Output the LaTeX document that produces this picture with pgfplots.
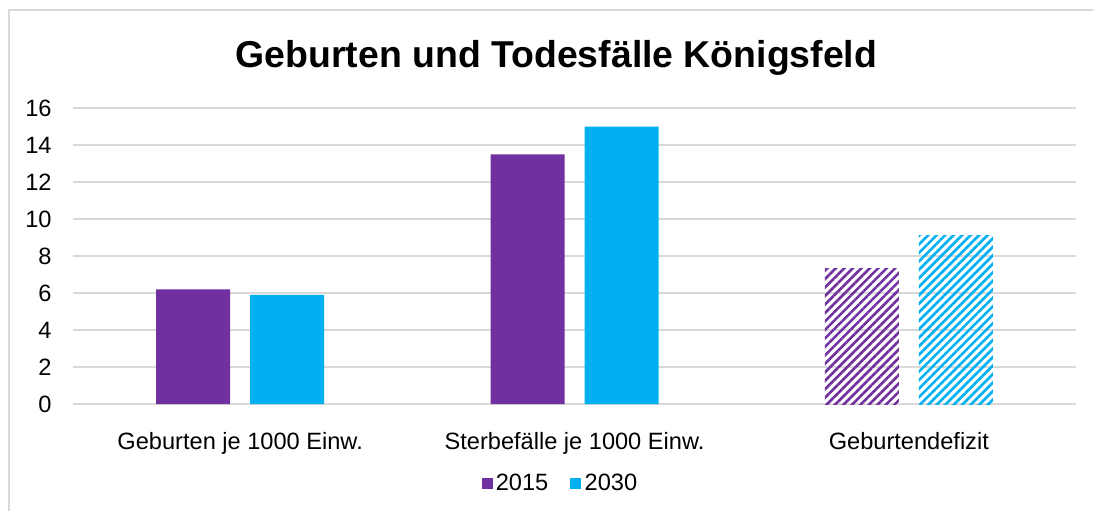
\documentclass[border=0pt]{standalone}
\usepackage{pgfplots}
\pgfplotsset{compat=1.18}
\usepackage{fontspec}
\setmainfont{Liberation Sans}
\usetikzlibrary{patterns.meta}

\definecolor{violett}{HTML}{7030A0}
\definecolor{hellblau}{HTML}{00B0F0}
\definecolor{gitter}{HTML}{D9D9D9}

\begin{document}
\begin{tikzpicture}[x=0.5pt,y=0.5pt]
    % picture is 1093 x 510 px, 1 px = 0.5pt
    \useasboundingbox (0,0) rectangle (1093,510);
    \draw[gitter, line width=1pt] (8.5,-10) -- (8.5,499.5) -- (1100,499.5);
    \node[anchor=base, inner sep=0pt, font=\bfseries\fontsize{18.7}{22}\selectfont]
        at (556.5,442) {Geburten und Todesfälle Königsfeld};

    \begin{axis}[
        at={(36.5pt,53pt)}, anchor=south west,
        scale only axis,
        width=501.5pt, height=148pt,
        ybar,
        bar width=37pt,
        xmin=-0.5, xmax=2.5,
        ymin=0, ymax=16,
        xtick={0,1,2},
        xticklabels={Geburten je 1000 Einw., Sterbefälle je 1000 Einw., Geburtendefizit},
        ytick={0,2,...,16},
        ymajorgrids=true,
        grid style={gitter, line width=0.7pt},
        axis line style={draw=none},
        major tick style={draw=none},
        tick label style={font=\fontsize{11.8}{14}\selectfont},
        /pgf/number format/assume math mode=true,
        yticklabel style={anchor=east, inner sep=0pt, xshift=-10.5pt},
        xticklabel style={anchor=base, inner sep=0pt, yshift=-18.5pt},
        legend style={
            at={(0.4865,-0.27)}, anchor=center,
            draw=none, fill=none,
            legend columns=2,
            font=\fontsize{11.8}{14}\selectfont,
            /tikz/every even column/.append style={column sep=9.5pt},
            nodes={inner sep=1.6pt},
        },
        legend image code/.code={
            \fill[#1] (0pt,-2.75pt) rectangle (5.5pt,2.75pt);
        },
    ]
    \addplot[fill=violett, draw=none, bar shift=-23.5pt]
        coordinates {(0,6.2) (1,13.5)};
    \addplot[fill=hellblau, draw=none, bar shift=23.5pt]
        coordinates {(0,5.9) (1,15.0)};
    \addplot[forget plot, draw=none, bar shift=-23.5pt,
        pattern={Lines[angle=45, distance=3pt, line width=1.3pt]}, pattern color=violett]
        coordinates {(2,7.3)};
    \addplot[forget plot, draw=none, bar shift=23.5pt,
        pattern={Lines[angle=45, distance=3pt, line width=1.3pt]}, pattern color=hellblau]
        coordinates {(2,9.1)};
    \legend{2015, 2030}
    \end{axis}
\end{tikzpicture}
\end{document}
